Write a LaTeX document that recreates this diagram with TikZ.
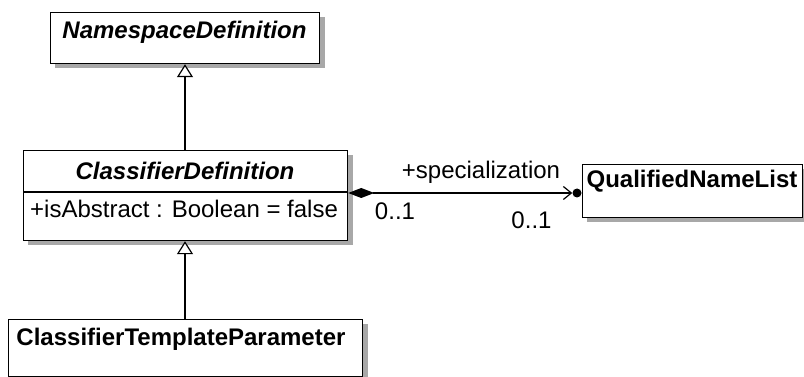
\documentclass[tikz,border=0pt]{standalone}
\usepackage{fontspec}
\setmainfont{Liberation Sans}
\usetikzlibrary{arrows.meta}
\definecolor{shadowc}{HTML}{A8A8A8}
\begin{document}
\begin{tikzpicture}[x=1pt,y=-1pt,
  box/.style={draw=black, line width=1.2pt, fill=white, inner sep=0pt, anchor=north west},
  shadowbox/.style={fill=shadowc, draw=none},
  lbl/.style={font=\fontsize{24}{28}\selectfont, anchor=base, inner sep=0pt},
  boldit/.style={lbl, font=\fontsize{24}{28}\selectfont\bfseries\itshape},
  bold/.style={lbl, font=\fontsize{24}{28}\selectfont\bfseries},
  gen/.style={line width=1.2pt, -{Triangle[length=13pt,width=16pt,fill=white]}},
  assoc/.style={line width=1.2pt, {Diamond[length=26pt,width=10pt]}-{Straight Barb[length=8pt,width=13pt]}}
]
\useasboundingbox (0,0) rectangle (804,377);

% shadows
\fill[shadowbox] (55,17) rectangle (325,68);
\fill[shadowbox] (28,155) rectangle (353,245);
\fill[shadowbox] (587,169) rectangle (808,222);
\fill[shadowbox] (13,324) rectangle (368,381);

% boxes
\node[box, minimum width=269pt, minimum height=51pt] (nd) at (50,12) {};
\node[box, minimum width=324pt, minimum height=90pt] (cd) at (23,150) {};
\node[box, minimum width=220pt, minimum height=53pt] (qnl) at (582,164) {};
\node[box, minimum width=354pt, minimum height=57pt] (ctp) at (8,319) {};

\coordinate (div) at (0,192);
\draw[line width=1.2pt] (cd.west |- div) -- (cd.east |- div);

% texts
\node[boldit] (ndt) at (184.5,39) {NamespaceDefinition};
\node[boldit] (cdt) at (185,180) {ClassifierDefinition};
\node[lbl, anchor=base west] (cda) at (30,218) {+isAbstract : Boolean = false};
\node[bold] (qnlt) at (692,188) {QualifiedNameList};
\node[bold] (ctpt) at (181,345) {ClassifierTemplateParameter};

% generalizations
\coordinate (gx) at (185,0);
\draw[gen] (cd.north -| gx) -- (nd.south -| gx);
\draw[gen] (ctp.north -| gx) -- (cd.south -| gx);

% association
\node[circle, fill=black, inner sep=0pt, minimum size=9pt] (dot) at (577,193) {};
\draw[assoc] (cd.east |- dot) -- (dot.west);
\node[lbl] (role) at (481,179) {+specialization};
\node[lbl] (m1) at (395,220) {0..1};
\node[lbl] (m2) at (531.5,229) {0..1};
\end{tikzpicture}
\end{document}
